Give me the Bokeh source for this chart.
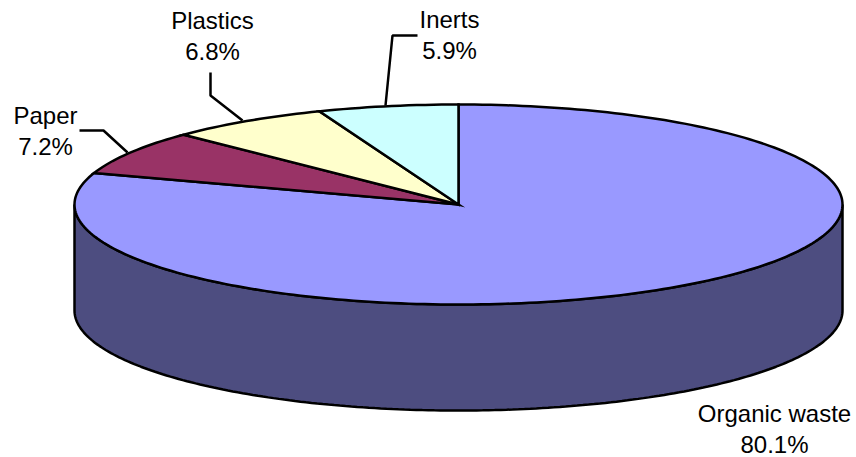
import math
from bokeh.plotting import figure
from bokeh.models import Range1d
from bokeh.core.properties import value
from bokeh.embed import file_html
from bokeh.resources import INLINE

categories = ["Organic waste", "Paper", "Plastics", "Inerts"]
shares = [80.1, 7.2, 6.8, 5.9]
share_labels = ["80.1%", "7.2%", "6.8%", "5.9%"]
top_colors = ["#9999FF", "#993366", "#FFFFCC", "#CCFFFF"]
side_color = "#4D4D80"

CX, CY, RX, RY, DEPTH = 458, 204, 384, 100, 106
FONT = "Liberation Sans"
FS = "24px"
LW = 2.5

label_pos = {"Organic waste": (774, 413), "Paper": (45, 115), "Plastics": (212, 20), "Inerts": (449, 19)}
leaders = {
    "Paper": ([79, 103, 127], [130, 130, 152]),
    "Plastics": ([210, 210, 242], [72, 95, 120]),
    "Inerts": ([417, 392, 385], [35, 35, 105]),
}

def pt(t, dy=0):
    return CX + RX * math.sin(t), CY - RY * math.cos(t) + dy

p = figure(width=856, height=457, output_backend="svg", toolbar_location=None,
           x_range=Range1d(0, 856), y_range=Range1d(457, 0), min_border=0,
           background_fill_color="white", border_fill_color="white", outline_line_color=None)
p.axis.visible = False
p.grid.visible = False

# side wall: visible front half of the cylinder
N = 200
front = [math.pi / 2 + math.pi * i / N for i in range(N + 1)]
sx = [pt(t)[0] for t in front] + [pt(t, DEPTH)[0] for t in reversed(front)]
sy = [pt(t)[1] for t in front] + [pt(t, DEPTH)[1] for t in reversed(front)]
p.patch(sx, sy, fill_color=side_color, line_color="black", line_width=LW)

# top slices, clockwise from 12 o'clock
total = sum(shares)
acc = 0.0
for share, color in zip(shares, top_colors):
    a0 = 2 * math.pi * acc / total
    a1 = 2 * math.pi * (acc + share) / total
    n = max(4, int(300 * share / total))
    ts = [a0 + (a1 - a0) * i / n for i in range(n + 1)]
    xs = [CX] + [pt(t)[0] for t in ts]
    ys = [CY] + [pt(t)[1] for t in ts]
    p.patch(xs, ys, fill_color=color, line_color="black", line_width=LW, line_join="miter")
    acc += share

for name, (lx, ly) in leaders.items():
    p.line(lx, ly, line_color="black", line_width=LW)

for name, lab in zip(categories, share_labels):
    x, y = label_pos[name]
    p.text([x], [y], text=[name], text_font=value(FONT), text_font_size=FS,
           text_align="center", text_baseline="middle", text_color="black")
    p.text([x], [y + 31], text=[lab], text_font=value(FONT), text_font_size=FS,
           text_align="center", text_baseline="middle", text_color="black")

open("out.html", "w").write(file_html(p, INLINE))
